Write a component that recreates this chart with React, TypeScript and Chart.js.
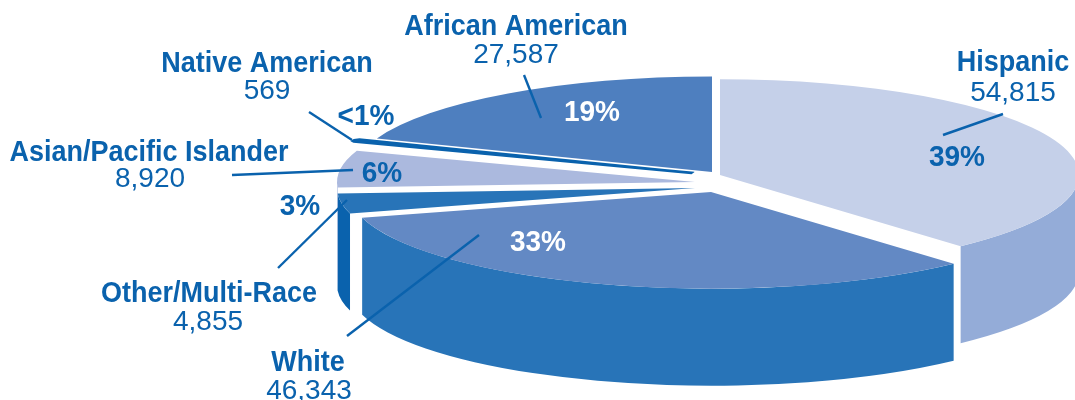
import React, { useEffect, useRef } from "react";
import { Chart, registerables } from "chart.js";

Chart.register(...registerables);

const categories = ["Hispanic", "White", "Other/Multi-Race", "Asian/Pacific Islander", "Native American", "African American"];
const values = [54815, 46343, 4855, 8920, 569, 27587];
const percents = ["39%", "33%", "3%", "6%", "<1%", "19%"];

const topColors = ["#c5d0e9", "#6389c4", "#2874b8", "#abb9de", "#0a62ad", "#4e7fbf"];
const rimColors = ["#94acd8", "#2874b8", "#0a62ad", "#abb9de", "#0a62ad", "#4e7fbf"];
const borderWidths = [0, 0, 0, 0, 9, 0];
const slicePull: [number, number][] = [[4, -8], [-5, 9], [-21, 5], [-21, -1], [-23, -10], [-4, -11]];
const sliceRadii = [359, 362, 358, 358, 358, 358];

const BLUE = "#0a62ad";
const TILT = 0.267;
const RADIUS = 358;
const DEPTH = 97;
const FONT = '"Liberation Sans", Arial, sans-serif';

const nameBaselines: [number, number][] = [[1013, 71], [308, 371], [209, 302], [149, 161], [267, 72], [516, 35]];
const valueBaselines: [number, number][] = [[1013, 101], [309, 399], [208, 330], [150, 187], [267, 99], [516, 63]];
const percentBaselines: [number, number][] = [[957, 166], [538, 251], [300, 215], [382, 182], [366, 125], [592, 121]];
const percentColors = [BLUE, "#ffffff", BLUE, BLUE, BLUE, "#ffffff"];
const leaders: [number, number, number, number][] = [
  [943, 135, 1003, 114],
  [347, 336, 479, 235],
  [278, 268, 347, 200],
  [232, 175, 353, 170],
  [309, 112, 352, 140],
  [524, 75, 541, 118],
];

// Draws text at a taller size, squeezed to the width it has at `widthSize`.
function squeezedText(ctx: any, text: string, x: number, y: number, weight: string, size: number, widthSize: number) {
  ctx.font = `${weight} ${widthSize}px ${FONT}`;
  const w = ctx.measureText(text).width;
  ctx.font = `${weight} ${size}px ${FONT}`;
  ctx.fillText(text, x, y, w);
}

const pie3d = {
  id: "pie3d",
  afterDatasetsUpdate(chart: any) {
    const arcs = chart.getDatasetMeta(0).data;
    arcs.forEach((el: any, i: number) => {
      const cx = (chart.chartArea.left + chart.chartArea.right) / 2;
      const cy = (chart.chartArea.top + chart.chartArea.bottom) / 2;
      el.x = cx + slicePull[i][0];
      el.y = cy + slicePull[i][1] / TILT;
      el.outerRadius = sliceRadii[i];
    });
  },
  beforeDatasetsDraw(chart: any) {
    const { ctx, chartArea } = chart;
    const cy = (chartArea.top + chartArea.bottom) / 2;
    chart.getDatasetMeta(0).data.forEach((el: any, i: number) => {
      const a0 = Math.max(el.startAngle, 0);
      const a1 = Math.min(el.endAngle, Math.PI);
      if (a1 <= a0) return;
      const y = cy + (el.y - cy) * TILT;
      const rx = el.outerRadius;
      const ry = el.outerRadius * TILT;
      ctx.beginPath();
      ctx.ellipse(el.x, y, rx, ry, 0, a0, a1, false);
      ctx.ellipse(el.x, y + DEPTH, rx, ry, 0, a1, a0, true);
      ctx.closePath();
      ctx.fillStyle = rimColors[i];
      ctx.fill();
    });
    ctx.save();
    ctx.translate(0, cy);
    ctx.scale(1, TILT);
    ctx.translate(0, -cy);
  },
  afterDatasetsDraw(chart: any) {
    const { ctx } = chart;
    ctx.restore();
    ctx.save();
    ctx.strokeStyle = BLUE;
    ctx.lineWidth = 2.4;
    leaders.forEach(([x1, y1, x2, y2]) => {
      ctx.beginPath();
      ctx.moveTo(x1, y1);
      ctx.lineTo(x2, y2);
      ctx.stroke();
    });
    ctx.textAlign = "center";
    ctx.textBaseline = "alphabetic";
    categories.forEach((name, i) => {
      ctx.fillStyle = BLUE;
      squeezedText(ctx, name, nameBaselines[i][0], nameBaselines[i][1], "bold", 29, 27);
      ctx.font = `28px ${FONT}`;
      ctx.fillText(values[i].toLocaleString("en-US"), valueBaselines[i][0], valueBaselines[i][1]);
      ctx.fillStyle = percentColors[i];
      squeezedText(ctx, percents[i], percentBaselines[i][0], percentBaselines[i][1], "bold", 30, 28);
    });
    ctx.restore();
  },
};

export default function App() {
  const ref = useRef<HTMLCanvasElement>(null);
  useEffect(() => {
    const chart = new Chart(ref.current!, {
      type: "pie",
      data: {
        labels: categories,
        datasets: [
          {
            data: values,
            backgroundColor: topColors,
            borderColor: topColors,
            borderWidth: borderWidths,
            radius: RADIUS,
            clip: false,
          } as any,
        ],
      },
      options: {
        responsive: false,
        animation: false,
        rotation: 0,
        layout: { padding: { left: 357, bottom: 34 } },
        plugins: { legend: { display: false }, tooltip: { enabled: false } },
      },
      plugins: [pie3d],
    } as any);
    return () => chart.destroy();
  }, []);
  return (
    <canvas
      ref={ref}
      width={1075}
      height={400}
      style={{ position: "absolute", left: 0, top: 0, width: 1075, height: 400, display: "block" }}
    />
  );
}
